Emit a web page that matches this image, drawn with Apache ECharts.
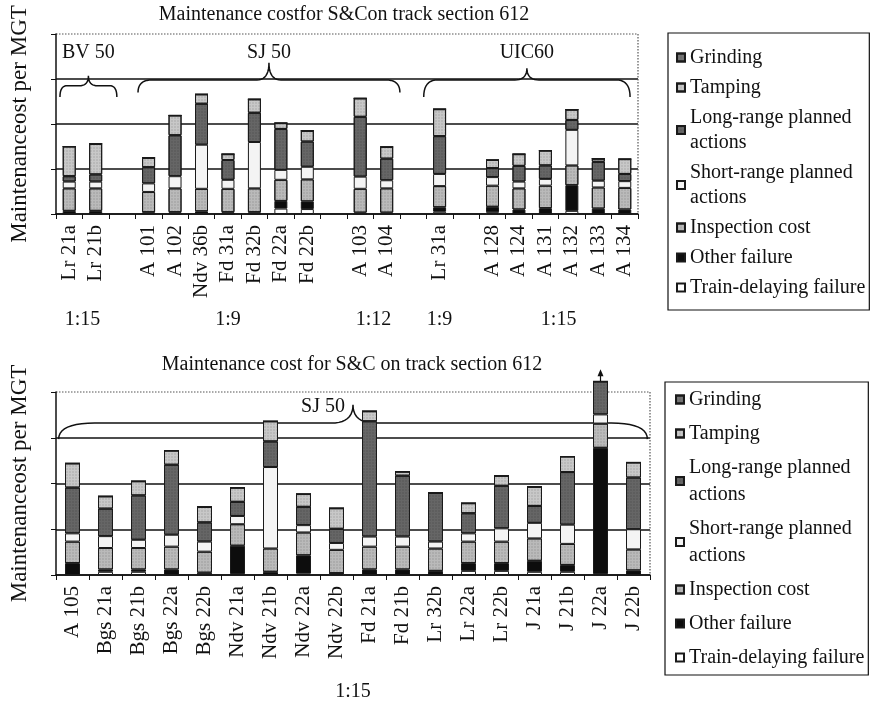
<!DOCTYPE html>
<html>
<head>
<meta charset="utf-8">
<script src="https://cdn.jsdelivr.net/npm/echarts@6/dist/echarts.min.js"></script>
<style>
  html, body { margin: 0; padding: 0; background: #fff; }
  #chart { width: 876px; height: 708px; }
</style>
</head>
<body>
<div id="chart"></div>
<script>
// ---- data (cost per MGT, gridline = 1 unit) ----
// blank entries are the gaps between track groups
const topCategories = ['Lr 21a', 'Lr 21b', ' ', 'A 101', 'A 102', 'Ndv 36b', 'Fd 31a', 'Fd 32b', 'Fd 22a', 'Fd 22b', '  ',
  'A 103', 'A 104', '   ', 'Lr 31a', '    ', 'A 128', 'A 124', 'A 131', 'A 132', 'A 133', 'A 134'];
const topTrainDelay = [0, 0, null, 0, 0, 0, 0, 0, 0.12, 0.11, null, 0, 0, null, 0.05, null, 0.04, 0, 0, 0.07, 0, 0];
const topOtherFailure = [0.07, 0.07, null, 0.04, 0.04, 0.06, 0.04, 0.04, 0.17, 0.17, null, 0.03, 0.03, null, 0.1, null, 0.12, 0.1, 0.13, 0.57, 0.12, 0.1];
const topInspection = [0.5, 0.5, null, 0.45, 0.53, 0.5, 0.52, 0.53, 0.47, 0.49, null, 0.53, 0.54, null, 0.47, null, 0.47, 0.47, 0.5, 0.44, 0.47, 0.48];
const topShortRange = [0.15, 0.15, null, 0.19, 0.27, 0.98, 0.2, 1.03, 0.22, 0.28, null, 0.27, 0.18, null, 0.27, null, 0.19, 0.15, 0.15, 0.79, 0.15, 0.15];
const topLongRange = [0.12, 0.16, null, 0.36, 0.91, 0.91, 0.44, 0.65, 0.91, 0.56, null, 1.33, 0.48, null, 0.84, null, 0.2, 0.35, 0.3, 0.22, 0.42, 0.16];
const topTamping = [0.66, 0.68, null, 0.21, 0.44, 0.21, 0.13, 0.3, 0.13, 0.24, null, 0.41, 0.26, null, 0.6, null, 0.18, 0.26, 0.33, 0.23, 0.07, 0.33];
const topGrinding = [0, 0, null, 0, 0, 0, 0, 0, 0, 0, null, 0, 0, null, 0, null, 0, 0, 0, 0, 0, 0];

const botCategories = ['A 105', 'Bgs 21a', 'Bgs 21b', 'Bgs 22a', 'Bgs 22b', 'Ndv 21a', 'Ndv 21b', 'Ndv 22a', 'Ndv 22b',
  'Fd 21a', 'Fd 21b', 'Lr 32b', 'Lr 22a', 'Lr 22b', 'J 21a', 'J 21b', 'J 22a', 'J 22b'];
const botTrainDelay = [0, 0.07, 0.07, 0, 0, 0.02, 0, 0.03, 0.04, 0, 0, 0, 0.09, 0.09, 0.07, 0.07, 0.02, 0];
const botOtherFailure = [0.26, 0.05, 0.05, 0.12, 0.05, 0.62, 0.07, 0.4, 0, 0.12, 0.12, 0.09, 0.17, 0.17, 0.24, 0.15, 2.76, 0.1];
const botInspection = [0.47, 0.47, 0.47, 0.5, 0.46, 0.47, 0.51, 0.5, 0.51, 0.5, 0.5, 0.49, 0.47, 0.47, 0.49, 0.46, 0.53, 0.46];
const botShortRange = [0.18, 0.26, 0.18, 0.26, 0.22, 0.18, 1.78, 0.16, 0.15, 0.22, 0.22, 0.15, 0.18, 0.29, 0.34, 0.42, 0.2, 0.44];
const botLongRange = [1.0, 0.6, 0.97, 1.53, 0.42, 0.31, 0.56, 0.4, 0.31, 2.52, 1.33, 1.07, 0.44, 0.93, 0.37, 1.15, 0.72, 1.13];
const botTamping = [0.53, 0.27, 0.31, 0.31, 0.34, 0.31, 0.44, 0.28, 0.45, 0.22, 0.09, 0, 0.22, 0.22, 0.42, 0.34, 0, 0.33];
const botGrinding = [0, 0, 0, 0, 0, 0, 0, 0, 0, 0, 0, 0, 0, 0, 0, 0, 0, 0];

const yTicks = [0, 1, 2, 3, 4];

// group labels under the axis and braces above the bars (category index ranges)
const topRatios = [['1:15', 0, 1], ['1:9', 3, 9], ['1:12', 11, 12], ['1:9', 14, 14], ['1:15', 16, 21]];
const botRatios = [['1:15', 0, 17]];
const topRails = [['BV 50', 0, 1], ['SJ 50', 3, 12], ['UIC60', 14, 21]];
const botRails = [['SJ 50', 0, 17]];

const legendNames = ['Grinding', 'Tamping', 'Long-range planned actions', 'Short-range planned actions',
  'Inspection cost', 'Other failure', 'Train-delaying failure'];

const FONT = 'Liberation Serif';
const INK = '#111';
const fills = {
  'Grinding': '#767676',
  'Tamping': '#c8c8c8',
  'Long-range planned actions': '#666',
  'Short-range planned actions': '#f4f4f4',
  'Inspection cost': '#bababa',
  'Other failure': '#0d0d0d',
  'Train-delaying failure': '#ffffff'
};
// halftone look of the printed figure
const dots = { symbol: 'rect', symbolSize: 0.5, dashArrayX: [2, 1], dashArrayY: [2, 1], color: 'rgba(0,0,0,0.28)' };
const dotted = ['Grinding', 'Tamping', 'Long-range planned actions', 'Inspection cost'];

function stackSeries(idx, stack, barWidth, rows) {
  // rows go from the bottom of the stack to the top
  return rows.map(([name, values]) => ({
    name: name,
    type: 'bar',
    stack: stack,
    xAxisIndex: idx,
    yAxisIndex: idx,
    barWidth: barWidth,
    clip: false,
    data: values,
    itemStyle: Object.assign({ color: fills[name], borderColor: '#1a1a1a', borderWidth: 1 },
      dotted.includes(name) ? { decal: dots } : {}),
    emphasis: { disabled: true }
  }));
}

const series = [].concat(
  stackSeries(0, 'top', 13, [
    ['Train-delaying failure', topTrainDelay], ['Other failure', topOtherFailure], ['Inspection cost', topInspection],
    ['Short-range planned actions', topShortRange], ['Long-range planned actions', topLongRange],
    ['Tamping', topTamping], ['Grinding', topGrinding]]),
  stackSeries(1, 'bot', 15, [
    ['Train-delaying failure', botTrainDelay], ['Other failure', botOtherFailure], ['Inspection cost', botInspection],
    ['Short-range planned actions', botShortRange], ['Long-range planned actions', botLongRange],
    ['Tamping', botTamping], ['Grinding', botGrinding]])
);

function xAxisFor(idx, cats) {
  return {
    type: 'category', gridIndex: idx, data: cats,
    axisLine: { lineStyle: { color: INK, width: 1.5 } },
    axisTick: { show: true, length: 5, lineStyle: { color: INK } },
    axisLabel: { interval: 0, rotate: 90, margin: 11, fontFamily: FONT, fontSize: 21, color: INK }
  };
}
function yAxisFor(idx) {
  return {
    type: 'value', gridIndex: idx, min: yTicks[0], max: yTicks[yTicks.length - 1], interval: 1,
    name: 'Maintenanceost per MGT', nameLocation: 'middle', nameGap: 25,
    nameTextStyle: { fontFamily: FONT, fontSize: 23, color: INK },
    axisLine: { show: true, lineStyle: { color: INK, width: 1.5 } },
    axisTick: { show: true, length: 5, lineStyle: { color: INK } },
    axisLabel: { show: false },
    // no solid line at the top, the plot frame is dotted there
    splitLine: { lineStyle: { color: [INK, INK, INK, INK, 'rgba(0,0,0,0)'], width: 1.5 } }
  };
}
function legendFor(top, left, gap, lineH, pad) {
  return {
    data: legendNames, orient: 'vertical', left: left, top: top, padding: pad,
    itemGap: gap, itemWidth: 8, itemHeight: 8, icon: 'rect', selectedMode: false,
    borderColor: INK, borderWidth: 1.2,
    formatter: n => n.replace(' planned actions', ' planned\nactions'),
    textStyle: { fontFamily: FONT, fontSize: 20, lineHeight: lineH, color: INK }
  };
}

const chart = echarts.init(document.getElementById('chart'), null, { renderer: 'canvas' });
chart.setOption({
  animation: false,
  backgroundColor: '#fff',
  grid: [
    { left: 50, top: 34, width: 588, height: 180 },
    { left: 50, top: 392, width: 600, height: 183 }
  ],
  xAxis: [xAxisFor(0, topCategories), xAxisFor(1, botCategories)],
  yAxis: [yAxisFor(0), yAxisFor(1)],
  legend: [legendFor(33, 668, 5, 25, [12, 4, 10, 8]), legendFor(382, 665, 7, 27, [4, 4, 4, 10])],
  series: series
});

// ---- annotations placed through the grid coordinate systems ----
const px = (g, i, v) => chart.convertToPixel({ gridIndex: g }, [i, v]);
const band = g => px(g, 1, 0)[0] - px(g, 0, 0)[0];
const gfx = [];

function text(str, x, y, align) {
  gfx.push({ type: 'text', x: x, y: y, style: { text: str, fontFamily: FONT, fontSize: 20, fill: INK,
    align: align || 'center', verticalAlign: 'middle' } });
}

function brace(g, from, to, offL, offR, vEnd, vBar, vTip, rEnd, rTip) {
  const bw = band(g);
  const x1 = px(g, from, 0)[0] + offL * bw;
  const x2 = px(g, to, 0)[0] + offR * bw;
  const yE = px(g, 0, vEnd)[1], yB = px(g, 0, vBar)[1], yT = px(g, 0, vTip)[1];
  const xm = (x1 + x2) / 2;
  const pts = [];
  const quad = (p0, c, p1) => {
    for (let k = 0; k <= 10; k++) {
      const t = k / 10, u = 1 - t;
      pts.push([u * u * p0[0] + 2 * u * t * c[0] + t * t * p1[0], u * u * p0[1] + 2 * u * t * c[1] + t * t * p1[1]]);
    }
  };
  quad([x1, yE], [x1, yB], [x1 + rEnd, yB]);
  quad([xm - rTip, yB], [xm, yB], [xm, yT]);
  quad([xm, yT], [xm, yB], [xm + rTip, yB]);
  quad([x2 - rEnd, yB], [x2, yB], [x2, yE]);
  gfx.push({ type: 'polyline', shape: { points: pts }, style: { fill: null, stroke: INK, lineWidth: 1.5 } });
  return xm;
}

function frame(g, nCats) {
  const bw = band(g);
  const l = px(g, 0, 4)[0] - bw / 2, r = px(g, nCats - 1, 4)[0] + bw / 2;
  const t = px(g, 0, 4)[1], b = px(g, 0, 0)[1];
  gfx.push({ type: 'polyline', shape: { points: [[l, t], [r, t], [r, b]] },
    style: { fill: null, stroke: '#555', lineWidth: 1.2, lineDash: [1.5, 1.5] } });
}

frame(0, topCategories.length);
frame(1, botCategories.length);

// titles
text('Maintenance costfor S&Con track section 612', 344, 15);
text('Maintenance cost for S&C on track section 612', 352, 365);

// ratio labels under the category labels
topRatios.forEach(([s, a, b]) => text(s, (px(0, a, 0)[0] + px(0, b, 0)[0]) / 2, 320));
botRatios.forEach(([s, a, b]) => text(s, (px(1, a, 0)[0] + px(1, b, 0)[0]) / 2, 692));

// rail type braces
const braceShape = {
  'BV 50': [-0.35, 0.8, 2.6, 2.85, 3.07, 7, 9],
  'SJ 50': [-0.4, 0.5, 2.7, 2.98, 3.36, 14, 12],
  'UIC60': [-0.6, 0.2, 2.6, 2.98, 3.24, 14, 12]
};
topRails.forEach(([s, a, b]) => {
  const p = braceShape[s];
  const xm = brace(0, a, b, p[0], p[1], p[2], p[3], p[4], p[5], p[6]);
  text(s, xm, px(0, 0, 3.58)[1]);
});
botRails.forEach(([s, a, b]) => {
  const xm = brace(1, a, b, -0.42, 0.42, 2.97, 3.32, 3.72, 36, 22);
  text(s, xm - 8, px(1, 0, 3.67)[1], 'right');
});

// arrow on the bar that runs off the scale (J 22a)
const over = botCategories.indexOf('J 22a');
const ax = px(1, over, 0)[0];
const ay0 = px(1, over, 3.83)[1], ay1 = px(1, over, 4.5)[1];
gfx.push({ type: 'line', shape: { x1: ax, y1: ay0, x2: ax, y2: ay1 + 5 }, style: { stroke: INK, lineWidth: 1.2 } });
gfx.push({ type: 'polygon', shape: { points: [[ax, ay1], [ax - 3, ay1 + 7], [ax + 3, ay1 + 7]] }, style: { fill: INK } });

chart.setOption({ graphic: gfx });
</script>
</body>
</html>
